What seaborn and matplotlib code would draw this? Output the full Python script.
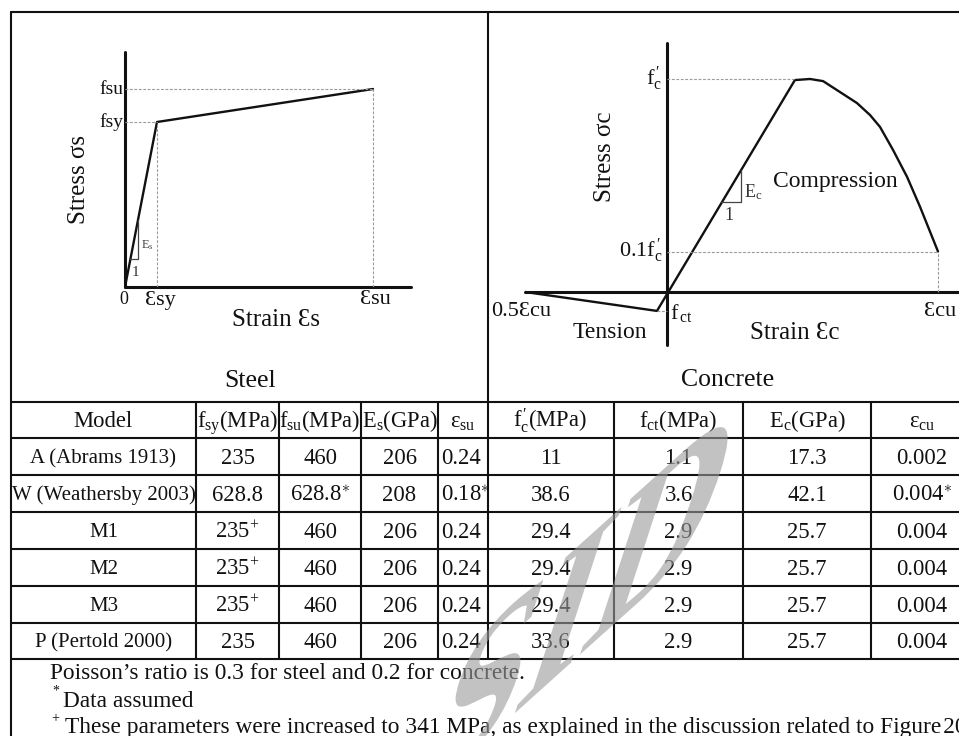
import matplotlib
matplotlib.use("Agg")
import numpy as np
import matplotlib.pyplot as plt
import seaborn as sns
from matplotlib.textpath import TextPath
from matplotlib.patches import PathPatch
from matplotlib.font_manager import FontProperties
from matplotlib.transforms import Affine2D

# ---------------- data ----------------
models = ["A (Abrams 1913)", "W (Weathersby 2003)", "M1", "M2", "M3", "P (Pertold 2000)"]
fsy = ["235", "628.8", "235", "235", "235", "235"]
fsy_mark = ["", "", "+", "+", "+", ""]
fsu = ["460", "628.8", "460", "460", "460", "460"]
fsu_mark = ["", "*", "", "", "", ""]
Es = ["206", "208", "206", "206", "206", "206"]
esu = ["0.24", "0.18", "0.24", "0.24", "0.24", "0.24"]
esu_mark = ["", "*", "", "", "", ""]
fc = ["11", "38.6", "29.4", "29.4", "29.4", "33.6"]
fct = ["1.1", "3.6", "2.9", "2.9", "2.9", "2.9"]
Ec = ["17.3", "42.1", "25.7", "25.7", "25.7", "25.7"]
ecu = ["0.002", "0.004", "0.004", "0.004", "0.004", "0.004"]
ecu_mark = ["", "*", "", "", "", ""]

headers = ["Model", r"$\mathrm{f_{sy}(MPa)}$", r"$\mathrm{f_{su}(MPa)}$", r"$\mathrm{E_{s}(GPa)}$",
           r"$\mathrm{ε_{su}}$", r"$\mathrm{f^{\,\prime}_{c}(MPa)}$", r"$\mathrm{f_{ct}(MPa)}$",
           r"$\mathrm{E_{c}(GPa)}$", r"$\mathrm{ε_{cu}}$"]

notes = ["Poisson’s ratio is 0.3 for steel and 0.2 for concrete.",
         "Data assumed",
         "These parameters were increased to 341 MPa, as explained in the discussion related to Figure\u200a20"]

# schematic stress-strain curves (normalised units)
steel_strain = [0.0, 1.0, 7.75]
steel_stress = [0.0, 1.0, 1.2]
conc_strain = [-0.524, -0.037, 0.472, 0.528, 0.576, 0.638, 0.701, 0.749, 0.786, 0.834, 0.886, 0.934, 1.0]
conc_stress = [0.0, -0.089, 0.995, 1.0, 0.99, 0.939, 0.887, 0.831, 0.775, 0.667, 0.540, 0.399, 0.19]

# ---------------- style ----------------
sns.set_style("white")
SERIF = ["Liberation Serif", "DejaVu Serif"]
plt.rcParams["font.family"] = SERIF
plt.rcParams["mathtext.fontset"] = "custom"
plt.rcParams["mathtext.rm"] = "Liberation Serif"
plt.rcParams["mathtext.it"] = "Liberation Serif:italic"
plt.rcParams["mathtext.bf"] = "Liberation Serif:bold"

W, H = 959, 736
fig = plt.figure(figsize=(W / 100, H / 100), dpi=100)
bg = fig.add_axes([0, 0, 1, 1])
bg.set_xlim(0, W)
bg.set_ylim(H, 0)
bg.axis("off")


def px_axes(l, t, r, b):
    a = fig.add_axes([l / W, 1 - b / H, (r - l) / W, (b - t) / H])
    a.set_facecolor("none")
    return a


TLW = 1.5
K = "#111111"
# ---------------- table frame ----------------
bg.plot([11, W], [12, 12], color=K, lw=TLW)
bg.plot([11, 11], [12, H], color=K, lw=TLW)
bg.plot([488, 488], [12, 659], color=K, lw=TLW)
row_lines = [402, 438, 475, 512, 549, 586, 623, 659]
for y in row_lines:
    bg.plot([11, W], [y, y], color=K, lw=TLW)
for x in [196, 279, 361, 438, 614, 743, 871]:
    bg.plot([x, x], [402, 659], color=K, lw=TLW)

FS = 16.3


def cell(x, yc, s, ha="center", size=FS):
    bg.text(x, yc + 0.33 * size * 100 / 72, s, ha=ha, va="baseline", fontsize=size, color=K)


def sup(v, m):
    if not m:
        return v
    mm = r"\ast" if m == "*" else "+"
    return r"$\mathrm{" + v + "}^{" + mm + "}$"


col_x = [103.5, 237.5, 320, 399.5, 462.5, 550.5, 678.5, 807, 922]
hc = (402 + 438) / 2
for i, h in enumerate(headers):
    cell(col_x[i], hc, h)
row_c = [(row_lines[i] + row_lines[i + 1]) / 2 for i in range(1, 7)]
for r in range(6):
    yc = row_c[r]
    cell(col_x[0], yc, models[r], size=15)
    cell(col_x[1], yc, sup(fsy[r], fsy_mark[r]))
    cell(col_x[2], yc, sup(fsu[r], fsu_mark[r]))
    cell(col_x[3], yc, Es[r])
    cell(441, yc, sup(esu[r], esu_mark[r]), ha="left")
    cell(col_x[5], yc, fc[r])
    cell(col_x[6], yc, fct[r])
    cell(col_x[7], yc, Ec[r])
    cell(col_x[8], yc, sup(ecu[r], ecu_mark[r]))

# footnotes
NFS = 16.8
bg.text(50, 679, notes[0], fontsize=NFS, color=K, va="baseline")
bg.text(52, 695, "*", fontsize=10, color=K, va="baseline")
bg.text(63, 707, notes[1], fontsize=NFS, color=K, va="baseline")
bg.text(51, 722, "+", fontsize=10, color=K, va="baseline")
bg.text(65, 733, notes[2], fontsize=NFS, color=K, va="baseline")

# ---------------- steel diagram ----------------
ax_s = px_axes(125, 52, 411, 287)
sns.lineplot(x=steel_strain, y=steel_stress, ax=ax_s, color=K, lw=1.7,
             sort=False, estimator=None)
ax_s.set_xlim(0, 286 / 32)
ax_s.set_ylim(0, 235 / 165)
ax_s.axis("off")
ax_s.axvline(0, color=K, lw=2.2, clip_on=False)
ax_s.axhline(0, color=K, lw=2.2, clip_on=False)
DS = dict(color="#9a9a9a", lw=0.8, ls=(0, (2.5, 1.5)))
for i in (1, 2):
    ax_s.plot([0, steel_strain[i]], [steel_stress[i]] * 2, **DS)
    ax_s.plot([steel_strain[i]] * 2, [0, steel_stress[i]], **DS)
# slope triangle
ax_s.plot([0.17, 0.406, 0.406], [0.17, 0.17, 0.406], color="#444444", lw=0.9)

bg.text(123, 89, "fsu", ha="right", va="center", fontsize=14, color=K)
bg.text(123, 122, "fsy", ha="right", va="center", fontsize=14, color=K)
bg.text(124, 300, "0", ha="center", va="center", fontsize=13, color=K)
bg.text(160, 300, "Ɛsy", ha="center", va="center", fontsize=16, color=K)
bg.text(375, 300, "Ɛsu", ha="center", va="center", fontsize=16, color=K)
bg.text(276, 320, "Strain Ɛs", ha="center", va="center", fontsize=18, color=K)
bg.text(79, 180, "Stress σs", ha="center", va="center", rotation=90, fontsize=18, color=K)
bg.text(141, 245, r"$\mathrm{E_s}$", ha="left", va="center", fontsize=9, color="#444444")
bg.text(135, 272, "1", ha="center", va="center", fontsize=11, color="#333333")
bg.text(250, 381, "Steel", ha="center", va="center", fontsize=18.5, color=K)

# ---------------- concrete diagram ----------------
ax_c = px_axes(525, 43, 959, 345)
sns.lineplot(x=conc_strain, y=conc_stress, ax=ax_c, color=K, lw=1.7,
             sort=False, estimator=None)
ax_c.set_xlim(-0.524, 1.0775)
ax_c.set_ylim(-0.249, 1.169)
ax_c.axis("off")
ax_c.axvline(0, color=K, lw=2.2, clip_on=False)
ax_c.axhline(0, color=K, lw=2.2, clip_on=False)
ipk = conc_stress.index(max(conc_stress))
ax_c.plot([0, conc_strain[ipk - 1]], [conc_stress[ipk]] * 2, **DS)
ax_c.plot([0, conc_strain[-1]], [conc_stress[-1]] * 2, **DS)
ax_c.plot([conc_strain[-1]] * 2, [0, conc_stress[-1]], **DS)
ax_c.plot([conc_strain[1], 0], [conc_stress[1]] * 2, **DS)
ax_c.plot([0.2, 0.273, 0.273], [0.423, 0.423, 0.575], color="#444444", lw=0.9)

bg.text(662, 79, r"$\mathrm{f^{\,\prime}_{c}}$", ha="right", va="center", fontsize=16, color=K)
bg.text(663, 251, r"$\mathrm{0.1f^{\,\prime}_{c}}$", ha="right", va="center", fontsize=16, color=K)
bg.text(491, 312, "0.5Ɛcu", ha="left", va="center", fontsize=16, color=K)
bg.text(670, 313, r"$\mathrm{f}_{\mathrm{\,ct}}$", ha="left", va="center", fontsize=16, color=K)
bg.text(610, 333, "Tension", ha="center", va="center", fontsize=17, color=K)
bg.text(795, 333, "Strain Ɛc", ha="center", va="center", fontsize=18, color=K)
bg.text(940, 312, "Ɛcu", ha="center", va="center", fontsize=16, color=K)
bg.text(605, 157, "Stress σc", ha="center", va="center", rotation=90, fontsize=18, color=K)
bg.text(773, 182, "Compression", ha="left", va="center", fontsize=17, color=K)
bg.text(744, 192, r"$\mathrm{E_c}$", ha="left", va="center", fontsize=13, color="#333333")
bg.text(729, 215, "1", ha="center", va="center", fontsize=13, color="#333333")
bg.text(728, 380, "Concrete", ha="center", va="center", fontsize=18.5, color=K)

# ---------------- watermark (sheared, rotated "SID") ----------------
tp = TextPath((0, 0), "SID", size=1,
              prop=FontProperties(family="Liberation Serif", weight="bold"))
bb = tp.get_extents()
alpha_deg, beta_deg = 42.0, 72.0
Lb, Ls = 235.0, 250.0
M = np.array([[Lb * np.cos(np.radians(alpha_deg)), Ls * np.cos(np.radians(beta_deg)), 0],
              [Lb * np.sin(np.radians(alpha_deg)), Ls * np.sin(np.radians(beta_deg)), 0],
              [0, 0, 1]])
cx, cy = 583, 597
tr = (Affine2D().translate(-(bb.x0 + bb.x1) / 2, -(bb.y0 + bb.y1) / 2)
      + Affine2D(M) + Affine2D().translate(cx, H - cy))
wm = PathPatch(tp, transform=tr, facecolor="#9a9a9a", edgecolor="none", alpha=0.6, zorder=100)
fig.add_artist(wm)

fig.savefig("out.png", dpi=100)
